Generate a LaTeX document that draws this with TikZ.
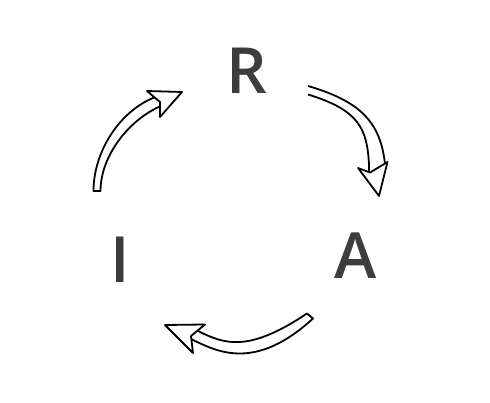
\documentclass[tikz,border=0pt]{standalone}
\usepackage{fontspec}
\IfFontExistsTF{Open Sans SemiBold}{\newfontfamily\ringfont{Open Sans SemiBold}}{%
  \IfFontExistsTF{Open Sans Semibold}{\newfontfamily\ringfont{Open Sans Semibold}}{%
    \newfontfamily\ringfont{Open Sans}[FakeBold=1.5]}}
\definecolor{lettergray}{HTML}{3D3D3D}
\tikzset{
  letter/.style={font=\ringfont\fontsize{63.7}{64}\selectfont, text=lettergray, inner sep=0pt},
  band/.style={draw=black, fill=white, line width=1.8pt, line join=round},
}
\begin{document}
\begin{tikzpicture}[x=1pt, y=1pt, yscale=-1]
  \useasboundingbox (0,0) rectangle (490,403);
  \node [letter] (R) at (247,71) {R};
  \node [letter] (A) at (356,256) {A};
  \node [letter] (I) at (120.5,259.5) {I};

  \draw [band] (93.5,191) .. controls (93.5,153) and (118,112.8) .. (153,98) -- (161,95) -- (166,104) -- (161,106) .. controls (128.8,119.7) and (100.5,156) .. (100.5,191) -- cycle;
  \draw [band] (147,91) -- (182,92) -- (160,117) -- (160,102) -- cycle;

  \draw [band] (308,86) .. controls (362.1,101.8) and (380.5,123.5) .. (385,164) -- (383,172) -- (369,178) -- (369,165) .. controls (367.2,128.6) and (359.1,110.2) .. (308,94.5);
  \draw [band] (358,168) -- (370,172.5) -- (387.5,162) -- (379,196) -- cycle;

  \draw [band] (313,318.5) .. controls (254.9,371.9) and (216.8,351.4) .. (192,339.5) -- (184.8,336) -- (191,328) -- (197,330.5) .. controls (224.4,344.2) and (247.6,353.1) .. (307,313.5) -- cycle;
  \draw [band] (165,325) -- (205,324.5) -- (191,336) -- (193,353) -- cycle;
\end{tikzpicture}
\end{document}
